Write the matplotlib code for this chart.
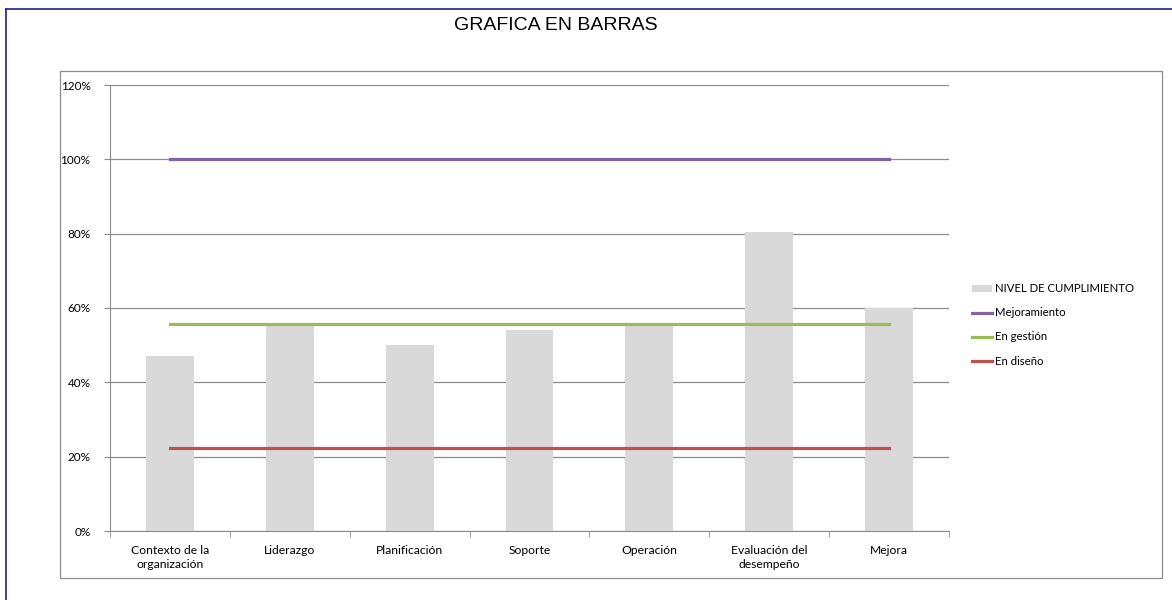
import numpy as np
import matplotlib.pyplot as plt
from matplotlib.patches import Rectangle
from matplotlib.lines import Line2D

categorias = ['Contexto de la\norganización', 'Liderazgo', 'Planificación', 'Soporte',
              'Operación', 'Evaluación del\ndesempeño', 'Mejora']
cumplimiento = [0.471, 0.555, 0.50, 0.541, 0.556, 0.804, 0.601]
mejoramiento = [1.0] * 7
en_gestion = [0.557] * 7
en_diseno = [0.222] * 7
yticks = [0, 0.2, 0.4, 0.6, 0.8, 1.0, 1.2]

plt.rcParams['font.family'] = ['Lato', 'DejaVu Sans']

fig = plt.figure(figsize=(11.72, 6.0), dpi=100)

# outer frame (left/top edge of the sheet) and chart area box
fig.add_artist(Line2D([6/1172, 6/1172], [0, 1 - 9/600], color='#1F1F8F', lw=1.2,
                      transform=fig.transFigure))
fig.add_artist(Line2D([6/1172, 1], [1 - 9/600, 1 - 9/600], color='#1F1F8F', lw=1.2,
                      transform=fig.transFigure))
fig.add_artist(Rectangle((60/1172, 1 - 578/600), (1162-60)/1172, (578-71)/600,
                         transform=fig.transFigure, fill=False, ec='#8C8C8C', lw=0.9))

ax = fig.add_axes([110/1172, 1 - 531/600, (949-110)/1172, (531-85)/600])
x = np.arange(len(categorias))

b = ax.bar(x, cumplimiento, width=0.4, color='#D9D9D9', label='NIVEL DE CUMPLIMIENTO', zorder=2)
l1, = ax.plot(x, mejoramiento, color='#8064A2', lw=2.3, label='Mejoramiento', zorder=3)
l2, = ax.plot(x, en_gestion, color='#9BBB59', lw=2.3, label='En gestión', zorder=3)
l3, = ax.plot(x, en_diseno, color='#C0504D', lw=2.3, label='En diseño', zorder=3)

ax.set_xlim(-0.5, len(categorias) - 0.5)
ax.set_ylim(0, 1.2)
ax.set_yticks(yticks)
ax.set_yticklabels(['%d%%' % round(v * 100) for v in yticks], fontsize=8.5)
ax.yaxis.grid(True, color='#8C8C8C', lw=0.9, zorder=1)
ax.set_axisbelow(True)

ax.set_xticks(x)
ax.set_xticklabels(categorias, fontsize=8.7, linespacing=1.4)
ax.set_xticks(np.arange(-0.5, len(categorias) + 0.5, 1), minor=True)
ax.tick_params(axis='x', which='major', length=0, pad=10)
ax.tick_params(axis='x', which='minor', length=4, color='#8C8C8C')
ax.tick_params(axis='y', length=4, color='#8C8C8C', pad=10)

for s in ['top', 'right']:
    ax.spines[s].set_visible(False)
for s in ['left', 'bottom']:
    ax.spines[s].set_color('#8C8C8C')

fig.text(556/1172, 1 - 26/600, 'GRAFICA EN BARRAS', ha='center', va='center',
         fontsize=14, family=['Liberation Sans', 'DejaVu Sans'])

leg = ax.legend([b, l1, l2, l3],
                ['NIVEL DE CUMPLIMIENTO', 'Mejoramiento', 'En gestión', 'En diseño'],
                loc='center left', bbox_to_anchor=(1.015, 0.462), frameon=False,
                fontsize=8.2, handlelength=1.8, handleheight=0.5, handletextpad=0.2,
                labelspacing=1.15)

fig.savefig('out.png', dpi=100)
